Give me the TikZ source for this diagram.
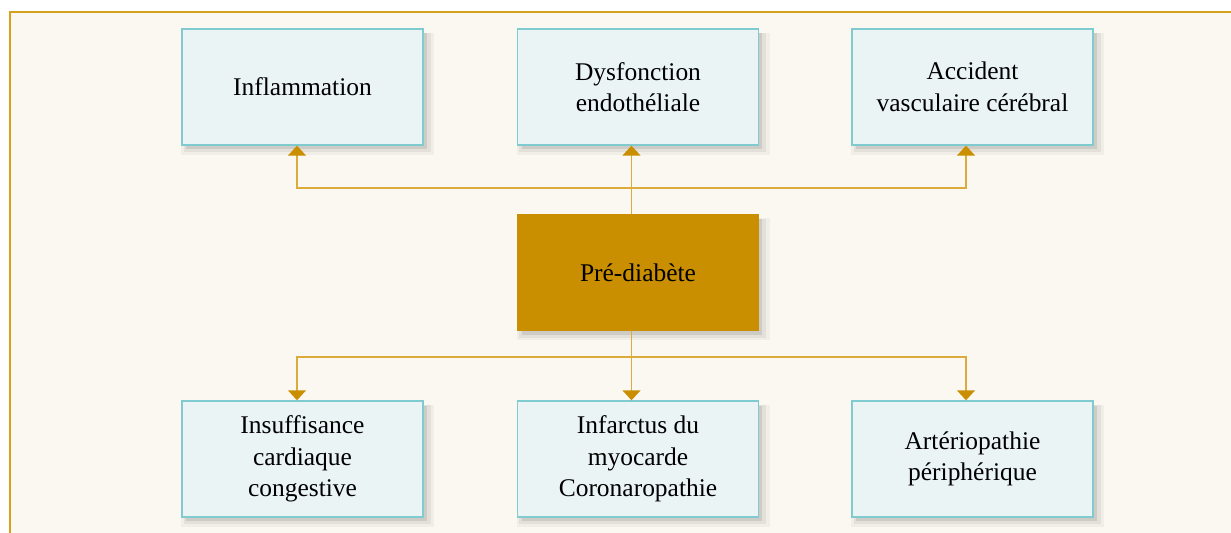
\documentclass[tikz,border=0pt]{standalone}
\usepackage{fontspec}
\setmainfont{Liberation Serif}
\usetikzlibrary{arrows.meta,shadows}

\definecolor{cream}{HTML}{FBF8F1}
\definecolor{framegold}{HTML}{D6A21E}
\definecolor{linkgold}{HTML}{DDAA3C}
\definecolor{tipgold}{HTML}{C98F00}
\definecolor{boxfill}{HTML}{EBF4F5}
\definecolor{boxline}{HTML}{7FCBD0}

\tikzset{
  ombre/.style={
    general shadow={fill=black, opacity=0.04, shadow xshift=0.1cm, shadow yshift=-0.13cm, shadow scale=1.05},
    general shadow={fill=black, opacity=0.06, shadow xshift=0.09cm, shadow yshift=-0.11cm, shadow scale=1.025},
    general shadow={fill=black, opacity=0.09, shadow xshift=0.08cm, shadow yshift=-0.09cm}},
  effet/.style={ombre, draw=boxline, line width=0.8pt, fill=boxfill,
    minimum width=4.82cm, minimum height=2.32cm, align=center,
    font=\fontsize{14.5}{18}\selectfont},
  cause/.style={effet, draw=tipgold, fill=tipgold},
  link/.style={linkgold, line width=0.8pt, -{Triangle[width=0.36cm, length=0.2cm, color=tipgold]}}
}

\begin{document}
\begin{tikzpicture}[x=0.02cm, y=0.02cm]
  \useasboundingbox (0,0) rectangle (1231,533);
  \clip (0,0) rectangle (1231,533);
  \fill[white] (0,0) rectangle (1231,533);
  \draw[framegold, fill=cream, line width=0.8pt] (10,-30) rectangle (1260,521);

  % noeud central
  \node[cause] (pre) at (638,260.5) {Pré-diabète};

  % rangée du haut
  \node[effet] (infl) at (302.5,446) {Inflammation};
  \node[effet] (endo) at (638,446) {Dysfonction\\endothéliale};
  \node[effet] (avc)  at (972.5,446) {Accident\\vasculaire cérébral};

  % rangée du bas
  \node[effet] (insuf) at (302.5,74) {Insuffisance\\cardiaque\\congestive};
  \node[effet] (infa)  at (638,74) {Infarctus du\\myocarde\\Coronaropathie};
  \node[effet] (arte)  at (972.5,74) {Artériopathie\\périphérique};

  \coordinate (hautbus) at (631,345);
  \coordinate (basbus) at (631,176);

  \draw[link] ([xshift=-0.13cm]pre.north) -- ([xshift=-0.13cm]endo.south);
  \draw[link] (hautbus) -| ([xshift=-0.11cm]infl.south);
  \draw[link] (hautbus) -| ([xshift=-0.13cm]avc.south);

  \draw[link] ([xshift=-0.13cm]pre.south) -- ([xshift=-0.13cm]infa.north);
  \draw[link] (basbus) -| ([xshift=-0.11cm]insuf.north);
  \draw[link] (basbus) -| ([xshift=-0.13cm]arte.north);
\end{tikzpicture}
\end{document}
